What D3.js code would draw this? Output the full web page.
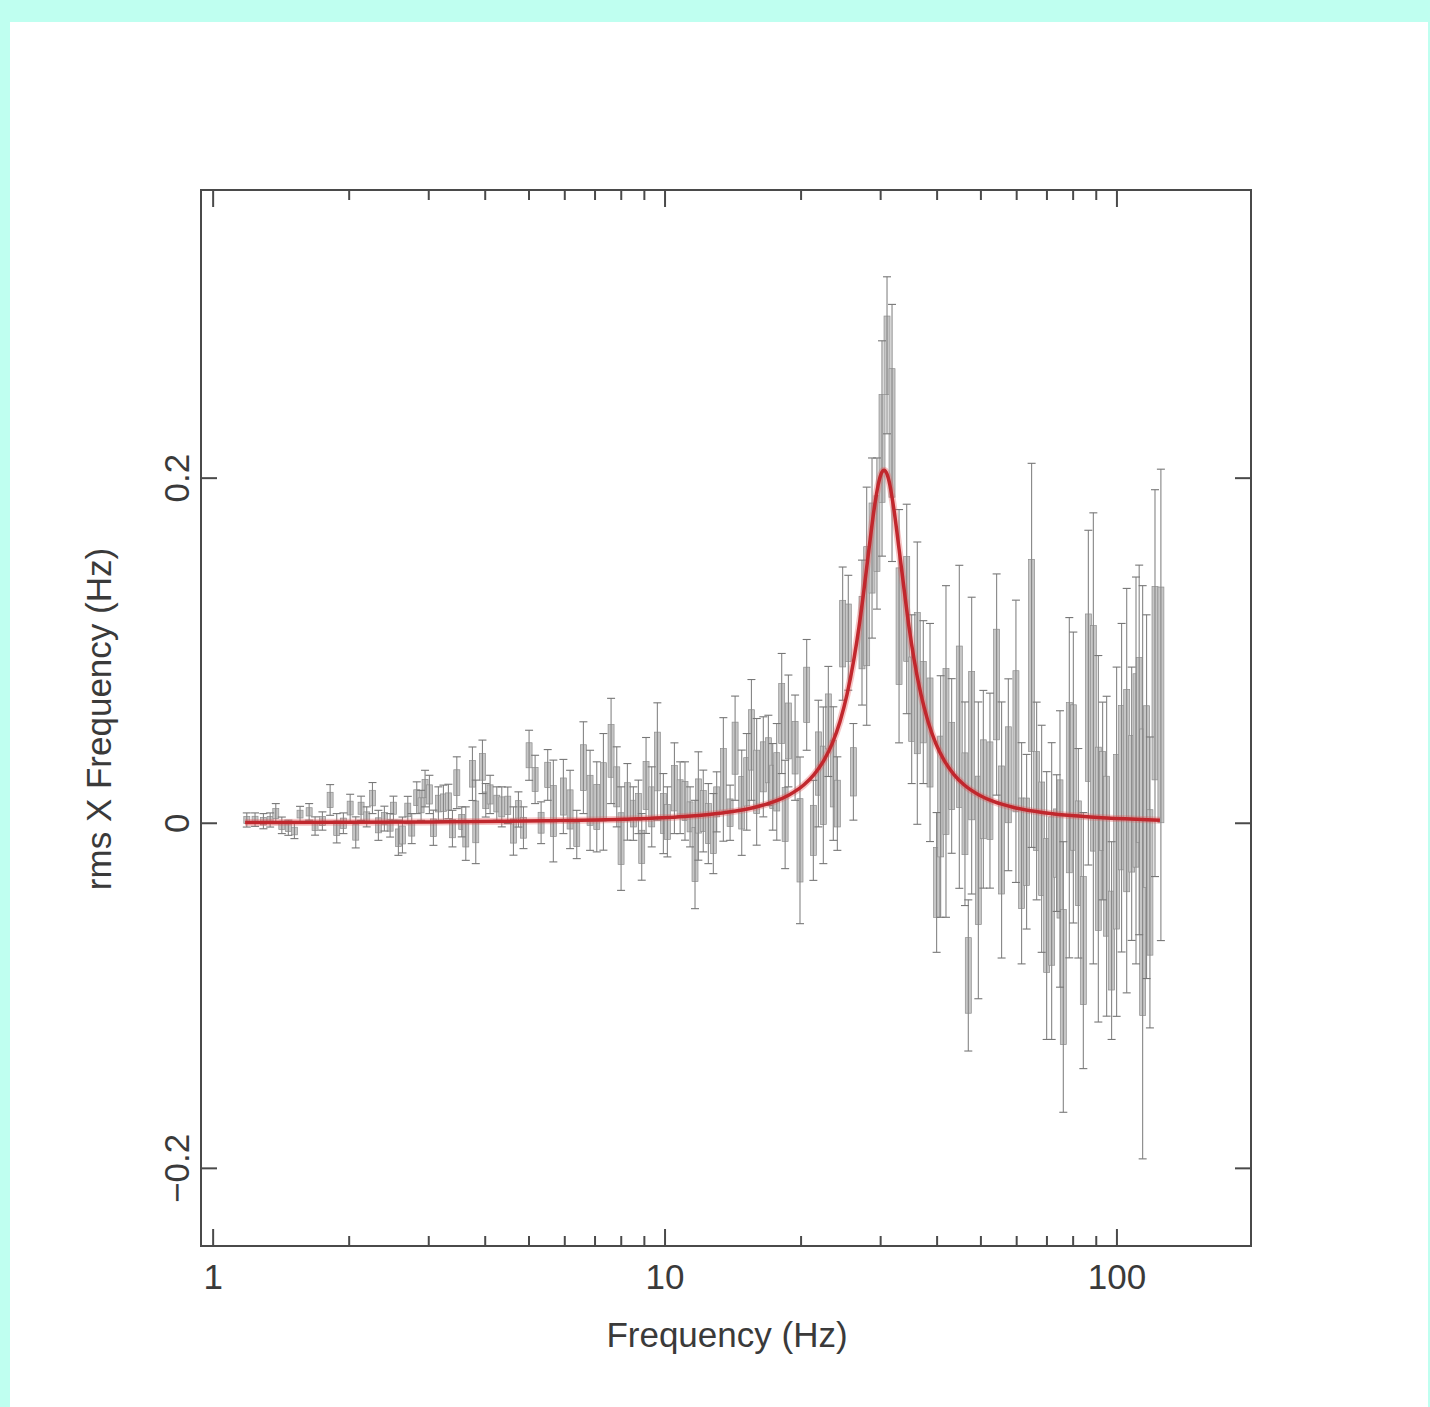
<!DOCTYPE html>
<html>
<head>
<meta charset="utf-8">
<script src="https://cdn.jsdelivr.net/npm/d3@7"></script>
<style>
  html, body { margin: 0; padding: 0; background: #bffff0; }
  svg { display: block; }
</style>
</head>
<body>
<svg id="chart"></svg>
<script>
// --- Power spectrum points (frequency in Hz, rms x frequency, 1-sigma error) ---
const freqs = [
  1.187, 1.238, 1.292, 1.337, 1.376, 1.419, 1.467, 1.513, 1.557, 1.631, 1.681, 1.745, 1.815, 1.877,
  1.942, 2.010, 2.068, 2.125, 2.187, 2.252, 2.321, 2.393, 2.464, 2.506, 2.570, 2.624, 2.696, 2.751,
  2.822, 2.885, 2.944, 3.010, 3.072, 3.151, 3.233, 3.316, 3.385, 3.461, 3.549, 3.623, 3.748, 3.812,
  3.944, 4.011, 4.101, 4.243, 4.352, 4.487, 4.619, 4.738, 4.861, 5.002, 5.158, 5.318, 5.500, 5.660,
  5.957, 6.164, 6.377, 6.597, 6.825, 7.062, 7.305, 7.596, 7.819, 7.993, 8.254, 8.510, 8.730, 8.880,
  9.078, 9.344, 9.616, 9.915, 10.12, 10.49, 10.80, 11.07, 11.36, 11.65, 11.85, 12.15, 12.47, 12.79,
  13.01, 13.46, 13.93, 14.29, 14.78, 15.16, 15.53, 15.95, 16.50, 16.93, 17.31, 17.67, 18.12, 18.44,
  18.75, 19.40, 19.89, 20.58, 21.29, 21.84, 22.40, 22.98, 23.57, 24.06,
  24.72, 25.44, 26.11, 27.28, 27.94, 28.71, 29.44, 30.21, 30.99, 31.79, 32.95,
  34.26, 35.14, 36.16, 37.28, 38.58, 39.90, 40.73, 41.85, 43.08, 44.79, 46.10, 46.89, 47.70, 49.35,
  50.62, 52.36, 54.17, 55.56, 57.50, 59.77, 61.52, 63.11, 64.74, 66.42, 68.14, 69.90, 71.71, 73.55,
  74.81, 76.09, 78.45, 80.08, 82.14, 84.26, 86.44, 88.67, 90.95, 92.97, 94.89, 97.32, 99.84, 102.4,
  105.1, 107.8, 110.2, 112.0, 114.0, 116.3, 118.3, 121.4, 125.1
];

const values = [
  .0019, .0021, .0012, .0019, .0056, -.0012, -.0026, -.0045, .0053, .0066, -.0016, .0013, .0135, -.0029,
  0, .0088, -.0053, .0087, .0037, .0146, -.0012, .0027, -.0012, .0087, -.0084, -.0068, .0077, -.0031,
  .0148, .0104, .0201, .0167, -.0026, .0114, .0119, .0126, -.0031, .0235, .0008, -.0060, .0287, .0008,
  .0327, .0133, .0167, .0114, .0095, .0104, -.0045, .0080, -.0026, .0394, .0254, .0003, .0280, .0071,
  .0155, .0080, -.0065, .0322, .0133, .0095, .0182, .0419, .0211, -.0089, .0124, .0056, .0095, -.0137,
  .0219, .0095, .0358, .0056, .0008, .0203, .0148, .0129, .0037, -.0181, .0100, .0071, -.0002, -.0060,
  .0124, .0254, .0061, .0435, .0119, .0240, .0483, .0240, .0327, .0365, .0211, .0240, .0636, .0051,
  .0535, .0438, -.0099, .0744, -.0041, .0346, .0220, .0590, .0288, .0114,
  .1099, .1104, .0298, .1105, .1258, .1595, .1679, .2172, .2712, .2262, .1142,
  .1242, .0719, .0812, .0702, .0526, -.0343, .0155, .0416, .0332, .0559, .0113, -.0882, .0450, -.0157,
  .0197, .0189, .0804, -.0039, .0281, .0475, -.0174, -.0107, .0973, .0129, -.0090, -.0477, -.0393, -.0115,
  -.0149, -.0891, .0206, .0265, -.0174, -.0680, .0728, .0492, -.0090, .0129, -.0191, -.0680, -.0107, .0206,
  .0189, .0113, .0306, .0425, -.0284, .0154, -.0343, .0812, .0686
];

const errors = [
  .0041, .0039, .0044, .0041, .0058, .0048, .0044, .0044, .0045, .0048, .0053, .0053, .0089, .0085,
  .0060, .0080, .0090, .0070, .0058, .0090, .0087, .0072, .0068, .0070, .0102, .0104, .0079, .0087,
  .0092, .0087, .0106, .0111, .0102, .0097, .0102, .0100, .0106, .0150, .0087, .0155, .0155, .0242,
  .0155, .0097, .0111, .0097, .0116, .0106, .0140, .0102, .0121, .0145, .0140, .0121, .0147, .0295,
  .0215, .0227, .0140, .0266, .0290, .0261, .0338, .0305, .0232, .0300, .0222, .0155, .0155, .0193,
  .0278, .0232, .0340, .0232, .0203, .0263, .0208, .0227, .0174, .0314, .0314, .0237, .0232, .0232,
  .0174, .0358, .0160, .0302, .0305, .0280, .0350, .0367, .0290, .0261, .0251, .0338, .0348, .0314,
  .0324, .0305, .0483, .0321, .0290, .0367, .0454, .0319, .0387, .0271,
  .0386, .0333, .0280, .0420, .0690, .0522, .0438, .0624, .0455, .0745, .0676,
  .0607, .0489, .0818, .0472, .0632, .0405, .0700, .0961, .0506, .0936, .0590, .0438, .0860, .0860,
  .0573, .0565, .0641, .0742, .0556, .0818, .0641, .0506, .1113, .0573, .0658, .0776, .0860, .0396,
  .0801, .0784, .0986, .0843, .0607, .0742, .0970, .1307, .1062, .0573, .0927, .0573, .1012, .0952,
  .1172, .0792, .1121, .1071, .1661, .1054, .0843, .1121, .1366
];

// --- Fitted Lorentzian model, sampled from the figure ---
const modelFreqs = [1.177, 3.083, 5.400, 8.115, 11.02, 13.51, 15.73, 17.42, 18.81, 20.30, 21.36,
  22.48, 23.42, 24.39, 25.27, 26.19, 26.87, 27.56, 28.27, 29.00, 29.60, 30.06, 30.52, 30.99, 31.47,
  32.11, 32.95, 33.81, 34.66, 35.55, 36.85, 38.19, 39.77, 41.43, 43.59, 45.87, 49.52, 53.45, 59.18,
  68.95, 84.53, 124.5];
const modelValues = [.0004, .0008, .0014, .0023, .0039, .0061, .0091, .0125, .0164, .0223, .0282,
  .0366, .0460, .0590, .0745, .0953, .1139, .1355, .1590, .1815, .1956, .2023, .2046, .2023, .1956,
  .1815, .1590, .1355, .1139, .0953, .0745, .0590, .0460, .0366, .0282, .0223, .0164, .0125, .0091,
  .0061, .0039, .0018];

// --- Axes ---
const xDomain = [0.94, 198];
const yDomain = [-0.245, 0.367];
const xMajorTicks = [1, 10, 100];
const xMinorTicks = [2, 3, 4, 5, 6, 7, 8, 9, 20, 30, 40, 50, 60, 70, 80, 90];
const yTicks = [-0.2, 0, 0.2];
const yTickLabels = ["\u22120.2", "0", "0.2"];
const xLabel = "Frequency (Hz)";
const yLabel = "rms X Frequency (Hz)";

// --- Layout ---
const W = 1430, H = 1407;
const plot = { left: 201, right: 1251, top: 190, bottom: 1246 };
const font = "'Liberation Sans', Arial, Helvetica, sans-serif";
const fontSize = 35;

const svg = d3.select("#chart").attr("width", W).attr("height", H);

svg.append("rect").attr("width", W).attr("height", H).attr("fill", "#bffff0");
svg.append("rect")
    .attr("x", 10).attr("y", 22)
    .attr("width", W - 12).attr("height", H - 22)
    .attr("fill", "#fff");

const x = d3.scaleLog().domain(xDomain).range([plot.left, plot.right]);
const y = d3.scaleLinear().domain(yDomain).range([plot.bottom, plot.top]);

const data = freqs.map((f, i) => ({ f, v: values[i], e: errors[i] }));

const gData = svg.append("g");

// inner shaded boxes
gData.selectAll("rect.box")
    .data(data)
    .enter().append("rect")
    .attr("class", "box")
    .attr("x", d => x(d.f) - 3)
    .attr("width", 6)
    .attr("y", d => y(d.v + d.e * 0.5))
    .attr("height", d => y(d.v - d.e * 0.5) - y(d.v + d.e * 0.5))
    .attr("fill", "#c6c6c6")
    .attr("stroke", "#8e8e8e")
    .attr("stroke-width", 0.7);

// error bar stems
gData.selectAll("line.stem")
    .data(data)
    .enter().append("line")
    .attr("x1", d => x(d.f)).attr("x2", d => x(d.f))
    .attr("y1", d => y(d.v + d.e)).attr("y2", d => y(d.v - d.e))
    .attr("stroke", "#858585")
    .attr("stroke-width", 1.1);

// caps
["top", "bottom"].forEach(side => {
    gData.selectAll("line.cap-" + side)
        .data(data)
        .enter().append("line")
        .attr("x1", d => x(d.f) - 4).attr("x2", d => x(d.f) + 4)
        .attr("y1", d => y(side === "top" ? d.v + d.e : d.v - d.e))
        .attr("y2", d => y(side === "top" ? d.v + d.e : d.v - d.e))
        .attr("stroke", "#777")
        .attr("stroke-width", 1.1);
});

// model curve
const modelData = modelFreqs.map((f, i) => ({ f, v: modelValues[i] }));
const line = d3.line().x(d => x(d.f)).y(d => y(d.v)).curve(d3.curveMonotoneX);

svg.append("path").datum(modelData)
    .attr("fill", "none")
    .attr("stroke", "rgba(225,90,90,0.35)")
    .attr("stroke-width", 7)
    .attr("d", line);
svg.append("path").datum(modelData)
    .attr("fill", "none")
    .attr("stroke", "#c1272d")
    .attr("stroke-width", 3.5)
    .attr("d", line);

// --- Frame and ticks ---
const axisColor = "#4a4a4a";
svg.append("rect")
    .attr("x", plot.left).attr("y", plot.top)
    .attr("width", plot.right - plot.left).attr("height", plot.bottom - plot.top)
    .attr("fill", "none")
    .attr("stroke", axisColor)
    .attr("stroke-width", 2);

const ticks = svg.append("g").attr("stroke", axisColor).attr("stroke-width", 2);

function xTick(v, len) {
    ticks.append("line")
        .attr("x1", x(v)).attr("x2", x(v))
        .attr("y1", plot.bottom).attr("y2", plot.bottom - len);
    ticks.append("line")
        .attr("x1", x(v)).attr("x2", x(v))
        .attr("y1", plot.top).attr("y2", plot.top + len);
}
xMajorTicks.forEach(v => xTick(v, 17));
xMinorTicks.forEach(v => xTick(v, 10));

yTicks.forEach(v => {
    ticks.append("line")
        .attr("x1", plot.left).attr("x2", plot.left + 16)
        .attr("y1", y(v)).attr("y2", y(v));
    ticks.append("line")
        .attr("x1", plot.right).attr("x2", plot.right - 16)
        .attr("y1", y(v)).attr("y2", y(v));
});

// --- Labels ---
const textColor = "#3a3a3a";

svg.selectAll("text.xtick")
    .data(xMajorTicks)
    .enter().append("text")
    .attr("x", d => x(d))
    .attr("y", 1289)
    .attr("text-anchor", "middle")
    .attr("font-family", font)
    .attr("font-size", fontSize)
    .attr("fill", textColor)
    .text(d => d);

svg.selectAll("text.ytick")
    .data(yTicks)
    .enter().append("text")
    .attr("transform", d => `translate(189,${y(d)}) rotate(-90)`)
    .attr("text-anchor", "middle")
    .attr("font-family", font)
    .attr("font-size", fontSize)
    .attr("fill", textColor)
    .text((d, i) => yTickLabels[i]);

svg.append("text")
    .attr("x", 727)
    .attr("y", 1347)
    .attr("text-anchor", "middle")
    .attr("font-family", font)
    .attr("font-size", fontSize)
    .attr("fill", textColor)
    .text(xLabel);

svg.append("text")
    .attr("transform", `translate(111,719) rotate(-90)`)
    .attr("text-anchor", "middle")
    .attr("font-family", font)
    .attr("font-size", fontSize)
    .attr("fill", textColor)
    .text(yLabel);
</script>
</body>
</html>
